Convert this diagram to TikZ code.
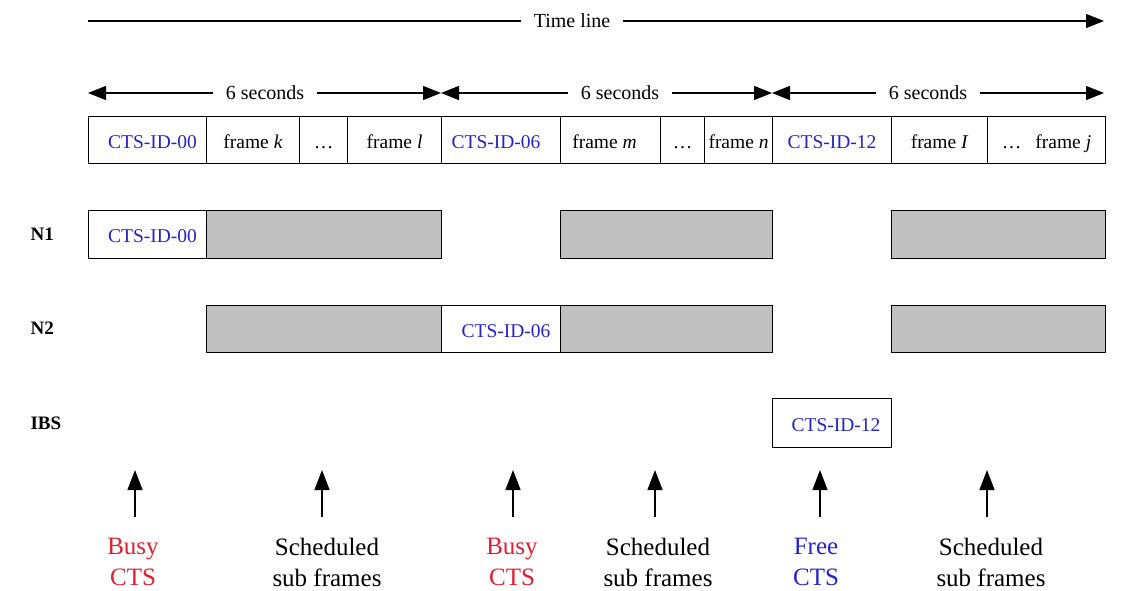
\documentclass[tikz,border=0pt]{standalone}
\usepackage{fontspec}
\setmainfont{Liberation Serif}
\usetikzlibrary{arrows.meta}
\definecolor{ctsblue}{RGB}{35,35,200}
\definecolor{busyred}{RGB}{225,30,50}
\definecolor{slotgrey}{RGB}{192,192,192}
\tikzset{
  tip/.style={-{Triangle[length=18pt,width=14pt]}},
  line/.style={line width=1.3pt},
  toptext/.style={font=\fontsize{20}{24}\selectfont, inner sep=13pt},
  cell/.style={draw, line width=1.1pt, anchor=north west, inner sep=0pt, minimum height=47pt,
               text height=16pt, text depth=0pt,
               font=\fontsize{19.5}{23}\selectfont},
  busy/.style={cell, fill=slotgrey},
  ctscell/.style={cell, text=ctsblue},
  rowlab/.style={font=\fontsize{19}{23}\selectfont\bfseries, anchor=west},
  lab/.style={align=center, font=\fontsize{25}{31}\selectfont, inner sep=0pt},
  uparrow/.style={line width=1.3pt, -{Triangle[length=20pt,width=15pt]}}
}
\begin{document}
\begin{tikzpicture}[x=1pt,y=-1pt]
\useasboundingbox (0,0) rectangle (1128,590);
% time line
\coordinate (tl0) at (88,21);
\coordinate (tl1) at (1104,21);
\node[toptext] (tlt) at (572,21) {Time line};
\draw[line] (tl0) -- (tlt.west);
\draw[line,tip] (tlt.east) -- (tl1);
% 6 second arrows
\coordinate (s0) at (88,93);
\coordinate (s1) at (441,93);
\coordinate (s2) at (772,93);
\coordinate (s3) at (1104,93);
\node[toptext] (sa) at (265,93) {6 seconds};
\node[toptext] (sb) at (620,93) {6 seconds};
\node[toptext] (sc) at (928,93) {6 seconds};
\draw[line,tip] (sa.west) -- (s0);
\draw[line,tip] (sa.east) -- (s1);
\draw[line,tip] (sb.west) -- (s1);
\draw[line,tip] (sb.east) -- (s2);
\draw[line,tip] (sc.west) -- (s2);
\draw[line,tip] (sc.east) -- (s3);
% frame row
\node[ctscell, minimum width=118pt] (f1) at (88,116) {\hspace*{10pt}CTS-ID-00};
\node[cell, minimum width=93pt] (f2) at (206,116) {frame \textit{k}};
\node[cell, minimum width=48pt] (f3) at (299,116) {…};
\node[cell, minimum width=94pt] (f4) at (347,116) {frame \textit{l}};
\node[ctscell, minimum width=119pt] (f5) at (441,116) {CTS-ID-06\hspace*{10pt}};
\node[cell, minimum width=100pt] (f6) at (560,116) {frame \textit{m}\hspace*{12pt}};
\node[cell, minimum width=44pt] (f7) at (660,116) {…};
\node[cell, minimum width=68pt] (f8) at (704,116) {frame \textit{n}};
\node[ctscell, minimum width=119pt] (f9) at (772,116) {CTS-ID-12};
\node[cell, minimum width=96pt] (f10) at (891,116) {frame \textit{I}};
\node[cell, minimum width=118pt] (f11) at (987,116) {…\hspace{14pt}frame \textit{j}};
% rows
\node[rowlab] (n1) at (27,234) {N1};
\node[rowlab] (n2) at (27,328) {N2};
\node[rowlab] (ibs) at (27,423) {IBS};
% N1
\node[ctscell, minimum width=118pt, minimum height=48pt] (a1) at (88,210) {\hspace*{10pt}CTS-ID-00};
\node[busy, minimum width=235pt, minimum height=48pt] (a2) at (206,210) {};
\node[busy, minimum width=212pt, minimum height=48pt] (a3) at (560,210) {};
\node[busy, minimum width=214pt, minimum height=48pt] (a4) at (891,210) {};
% N2
\node[busy, minimum width=235pt, minimum height=47pt] (b1) at (206,305) {};
\node[ctscell, minimum width=119pt, minimum height=47pt] (b2) at (441,305) {\hspace*{10pt}CTS-ID-06};
\node[busy, minimum width=212pt, minimum height=47pt] (b3) at (560,305) {};
\node[busy, minimum width=214pt, minimum height=47pt] (b4) at (891,305) {};
% IBS
\node[ctscell, minimum width=119pt, minimum height=49pt] (c1) at (772,398) {\hspace*{8pt}CTS-ID-12};
% bottom arrows and labels
\node[lab, text=busyred] (l1) at (133,562) {Busy\\CTS};
\node[lab] (l2) at (327,562) {Scheduled\\sub frames};
\node[lab, text=busyred] (l3) at (512,562) {Busy\\CTS};
\node[lab] (l4) at (658,562) {Scheduled\\sub frames};
\node[lab, text=ctsblue] (l5) at (816,562) {Free\\CTS};
\node[lab] (l6) at (991,562) {Scheduled\\sub frames};
\foreach \i/\x in {1/135,2/322,3/513,4/655,5/820,6/987}{
  \coordinate (p\i) at (\x,517);
  \coordinate (q\i) at (\x,470);
  \draw[uparrow] (p\i) -- (q\i);
}
\end{tikzpicture}
\end{document}
